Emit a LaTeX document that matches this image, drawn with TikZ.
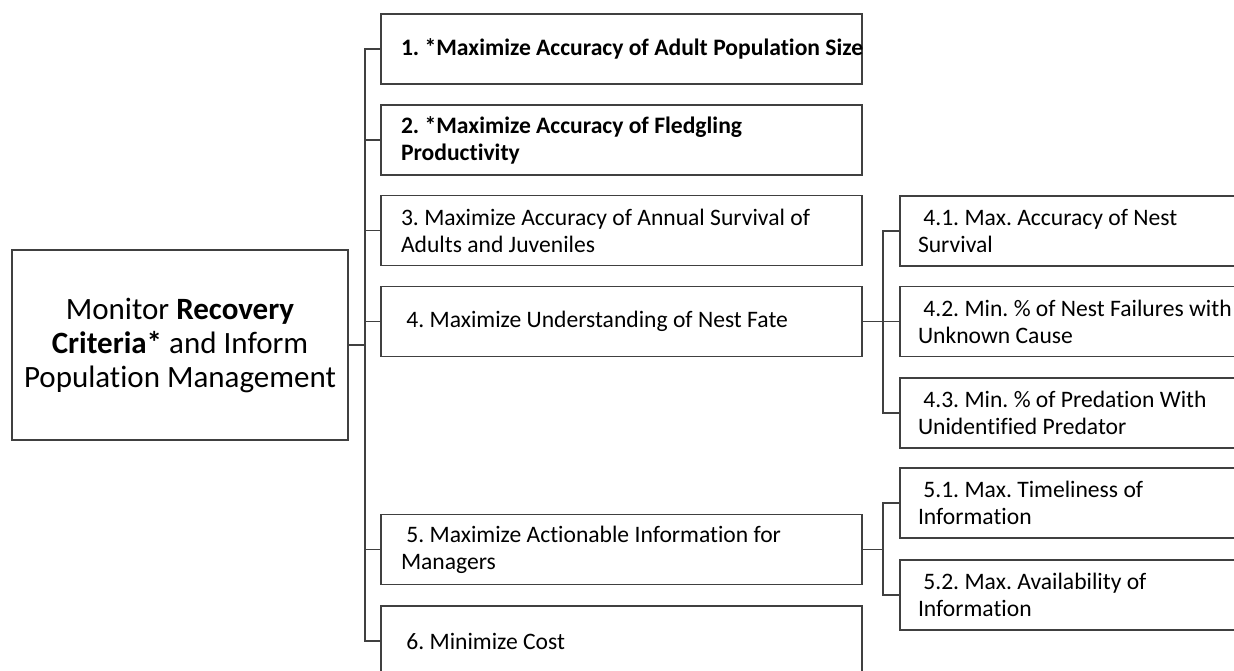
\documentclass[tikz,border=0pt]{standalone}
\usepackage{fontspec}
\setmainfont{Carlito}[Ligatures=NoCommon]
\frenchspacing
\begin{document}
\begin{tikzpicture}[x=0.5pt, y=-0.5pt,
  every node/.style={font=\fontsize{11.8}{13.5}\selectfont},
  goal/.style={draw=black!75, line width=0.9pt, minimum width=240.5pt, minimum height=35pt,
    text width=220.5pt, inner xsep=10pt, inner ysep=0pt, align=flush left},
  sub/.style={goal, minimum width=170pt, text width=160pt, inner xsep=9pt},
  link/.style={black!75, line width=0.7pt}]
  \clip (0,0) rectangle (1234,670);
  % overall objective
  \node[draw=black!75, line width=0.9pt, minimum width=168pt, minimum height=95pt, align=flush center,
    font=\fontsize{15.5}{17}\selectfont] (root) at (180,345)
    {Monitor \textbf{Recovery}\\\textbf{Criteria*} and Inform\\Population Management};
  % fundamental objectives
  \node[goal] (g1) at (621.5,49) {\mbox{\textbf{1. *Maximize Accuracy of Adult Population Size}}};
  \node[goal] (g2) at (621.5,140) {\textbf{2. *Maximize Accuracy of Fledgling\\Productivity}};
  \node[goal] (g3) at (621.5,230.5) {3. Maximize Accuracy of Annual Survival of\\Adults and Juveniles};
  \node[goal] (g4) at (621.5,321.5) {\ 4. Maximize Understanding of Nest Fate};
  \node[goal] (g5) at (621.5,549.5) {\ 5. Maximize Actionable Information for\\Managers};
  \node[goal] (g6) at (621.5,641) {\ 6. Minimize Cost};
  % means objectives
  \node[sub] (s41) at (1078,231) {\ 4.1. Max. Accuracy of Nest\\Survival};
  \node[sub] (s42) at (1078,321.5) {\ 4.2. Min. \% of Nest Failures with\\Unknown Cause};
  \node[sub] (s43) at (1078,413) {\ 4.3. Min. \% of Predation With\\Unidentified Predator};
  \node[sub] (s51) at (1078,503) {\ 5.1. Max. Timeliness of\\Information};
  \node[sub] (s52) at (1078,595) {\ 5.2. Max. Availability of\\Information};
  % tree lines
  \foreach \g in {g1,g2,g3,g4,g5,g6} \draw[link] (root.east) -- ++(8pt,0) |- (\g.west);
  \foreach \s in {s41,s42,s43} \draw[link] (g4.east) -- ++(10pt,0) |- (\s.west);
  \foreach \s in {s51,s52} \draw[link] (g5.east) -- ++(10pt,0) |- (\s.west);
\end{tikzpicture}
\end{document}
